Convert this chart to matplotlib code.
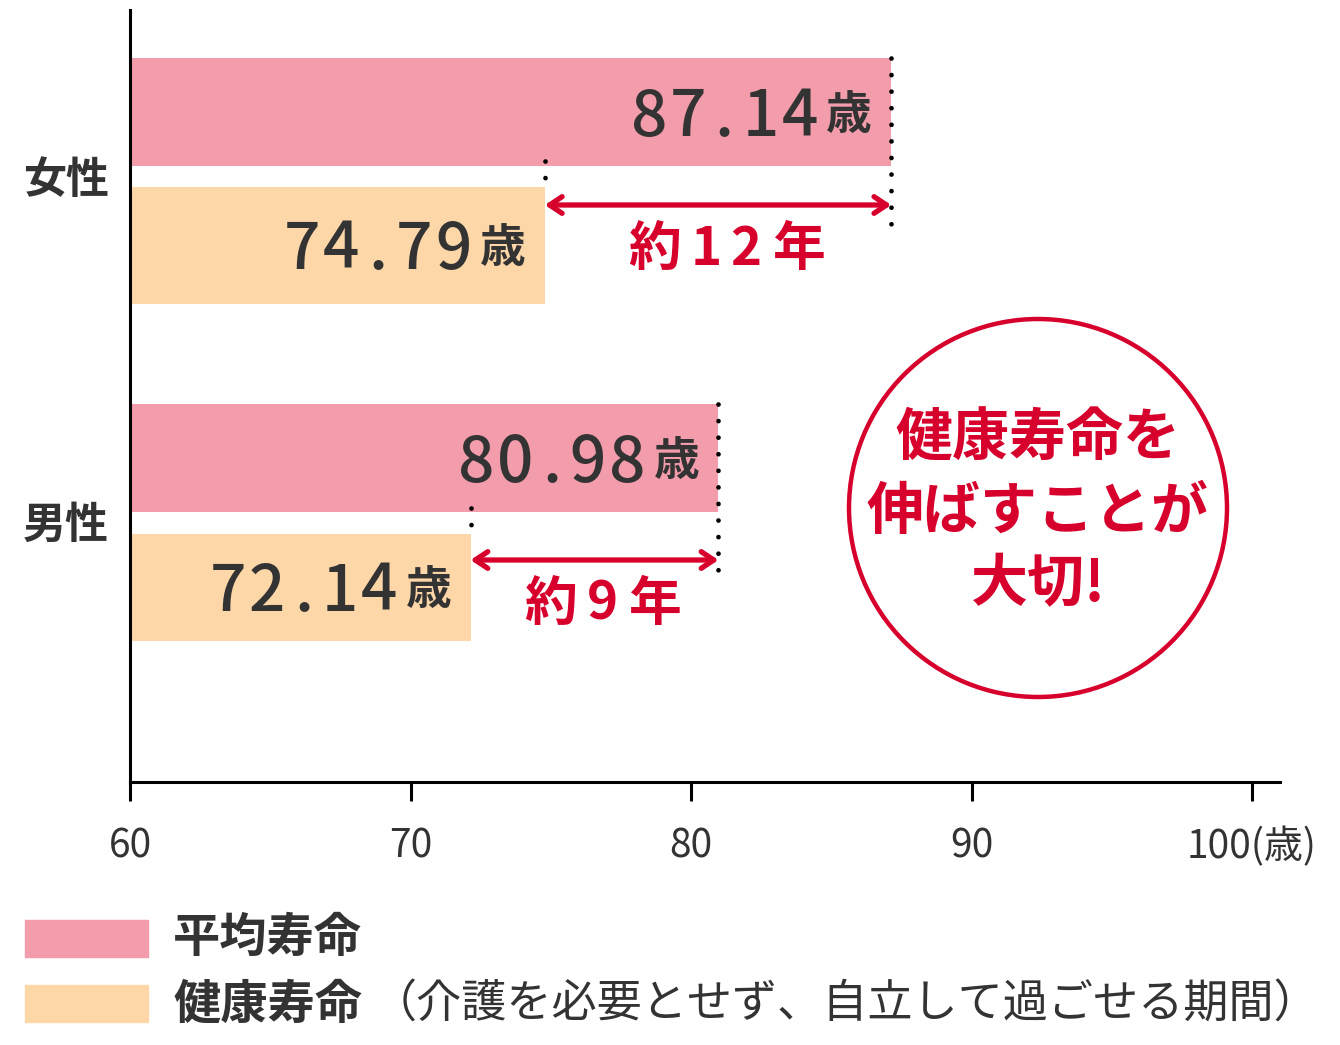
import matplotlib
matplotlib.use("Agg")
import matplotlib.pyplot as plt
from matplotlib.patches import Ellipse, Rectangle

plt.rcParams['font.family'] = ['Noto Sans CJK JP', 'DejaVu Sans']

# data
groups = ["女性", "男性"]
avg_life = [87.14, 80.98]
healthy_life = [74.79, 72.14]
gap_labels = ["約12年", "約9年"]
xticks = [60, 70, 80, 90, 100]
xtick_labels = ["60", "70", "80", "90", "100(歳)"]
legend_labels = ["平均寿命", "健康寿命"]
legend_note = "（介護を必要とせず、自立して過ごせる期間）"
circle_text = "健康寿命を\n伸ばすことが\n大切!"

PINK = "#F39CAB"
ORANGE = "#FDD7A7"
RED = "#D7002C"
DARK = "#333333"

# layout (y in pixel-like units from axis top)
avg_y = [102, 448]
avg_h = [108, 108]
hl_y = [235, 577]
hl_h = [117, 107]
group_y = [170, 515]
arrow_y = [195, 550]
PT = 0.72  # points per pixel at dpi 100


def char_width(c, digit_w, cjk_w, dot_w):
    if c.isdigit():
        return digit_w
    if c == ".":
        return dot_w
    return cjk_w


def spaced_text(ax, x, y, s, right_px, base_px, digit_w, cjk_w, dot_w, **kw):
    # put chars one by one (tracked text), s ends at right_px offset
    widths = [char_width(c, digit_w, cjk_w, dot_w) for c in s]
    pos = right_px
    for c, w in zip(reversed(s), reversed(widths)):
        ax.annotate(c, (x, y), xytext=((pos - w / 2) * PT, -base_px * PT),
                    textcoords="offset points", ha="center", va="baseline", **kw)
        pos -= w


fig = plt.figure(figsize=(13.4, 10.45), dpi=100)
ax = fig.add_axes([130 / 1340, 1 - 782 / 1045, 1150 / 1340, 772 / 1045])
ax.set_xlim(60, 60 + 1150 / 28.05)
ax.set_ylim(772, 0)

ax.barh(avg_y, [v - 60 for v in avg_life], left=60, height=avg_h, color=PINK)
ax.barh(hl_y, [v - 60 for v in healthy_life], left=60, height=hl_h, color=ORANGE)

for i in range(len(groups)):
    a, h = avg_life[i], healthy_life[i]
    # value labels
    for val, yc in ((a, avg_y[i]), (h, hl_y[i])):
        ax.annotate("歳", (val, yc), xytext=(-42 * PT, -17 * PT), textcoords="offset points",
                    ha="center", va="baseline", fontsize=33, color=DARK, fontweight="bold")
        spaced_text(ax, val, yc, "{:.2f}".format(val), -72, 24, 39, 60, 34,
                    fontsize=46, color=DARK, fontweight="medium")
    # dotted guides
    ax.plot([a, a], [avg_y[i] - avg_h[i] / 2, arrow_y[i] + 24], color="black",
            lw=3.4, linestyle=(0, (0.01, 3.5)), dash_capstyle="round")
    ax.plot([h, h], [hl_y[i] - hl_h[i] / 2 - 26, hl_y[i] - hl_h[i] / 2], color="black",
            lw=3.4, linestyle=(0, (0.01, 3.5)), dash_capstyle="round")
    # arrow
    ax.annotate("", xy=(a, arrow_y[i]), xytext=(h, arrow_y[i]),
                arrowprops=dict(arrowstyle="<->,head_length=0.9,head_width=0.6",
                                color=RED, lw=3.8, shrinkA=0, shrinkB=0))
    lab = gap_labels[i]
    widths = [char_width(c, 40, 64, 30) for c in lab]
    spaced_text(ax, (a + h) / 2, arrow_y[i], lab, sum(widths) / 2 + 8, 60, 40, 64, 30,
                fontsize=38, color=RED, fontweight="bold")
    ax.text(60 - 0.75, group_y[i], groups[i], ha="right", va="center",
            fontsize=31, color=DARK, fontweight="bold")

ax.set_xticks(xticks)
ax.set_xticklabels(xtick_labels, fontsize=28, color=DARK)
ax.tick_params(axis="x", length=14, width=2.2, pad=18, direction="out")
ax.set_yticks([])
ax.spines["top"].set_visible(False)
ax.spines["right"].set_visible(False)
ax.spines["left"].set_linewidth(2.2)
ax.spines["bottom"].set_linewidth(2.2)

# circle badge
fig.patches.append(Ellipse((1038 / 1340, 1 - 508 / 1045), 378 / 1340, 378 / 1045,
                           transform=fig.transFigure, fill=False, ec=RED, lw=3.2))
fig.text(1038 / 1340, 1 - 512 / 1045, circle_text, ha="center", va="center",
         fontsize=41, color=RED, fontweight="bold", linespacing=1.32)

# legend
fig.patches.append(Rectangle((25 / 1340, 1 - 957 / 1045), 123 / 1340, 37 / 1045,
                             transform=fig.transFigure, color=PINK))
fig.patches.append(Rectangle((25 / 1340, 1 - 1022 / 1045), 123 / 1340, 37 / 1045,
                             transform=fig.transFigure, color=ORANGE))
fig.text(173 / 1340, 1 - 938 / 1045, legend_labels[0], ha="left", va="center",
         fontsize=34, color=DARK, fontweight="bold")
fig.text(173 / 1340, 1 - 1005 / 1045, legend_labels[1], ha="left", va="center",
         fontsize=34, color=DARK, fontweight="bold")
fig.text(372 / 1340, 1 - 1005 / 1045, legend_note, ha="left", va="center",
         fontsize=32.5, color=DARK)

fig.savefig("out.png", dpi=100)
